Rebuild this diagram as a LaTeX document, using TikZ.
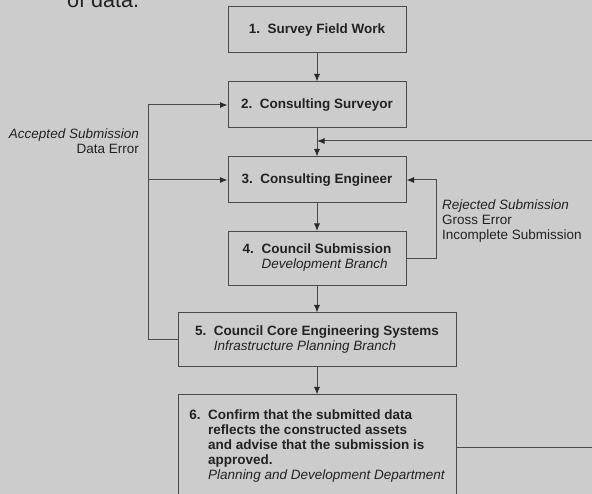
\documentclass[tikz,border=0pt]{standalone}
\usepackage{fontspec}
\setmainfont{Liberation Sans}
\usetikzlibrary{arrows.meta,positioning}
\definecolor{bggray}{HTML}{CCCCCC}
\definecolor{ink}{HTML}{4A4A4A}
\definecolor{tip}{HTML}{2A2A2A}
\definecolor{txt}{HTML}{222222}
\tikzset{font=\fontsize{13.5}{15}\selectfont}
\tikzset{
  stepbox/.style={draw=ink, line width=1pt, text=txt, inner sep=0pt,
                  minimum width=178pt, minimum height=46pt},
  widebox/.style={stepbox, minimum width=278pt, minimum height=54pt},
  flow/.style={draw=ink, line width=1pt, -{Latex[length=7.5pt,width=6pt,color=tip]}},
  plain/.style={draw=ink, line width=1pt},
  note/.style={text=txt, inner sep=0pt}
}
\newcommand{\boxtext}[2]{\begin{tabular}{@{}l@{\hspace{7.6pt}}l@{}}#1&#2\end{tabular}}

\begin{document}
\begin{tikzpicture}[x=1pt,y=-1pt]
  \fill[bggray] (0,0) rectangle (592,494);
  \useasboundingbox (0,0) rectangle (592,494);
  \clip (0,0) rectangle (592,494);

  % text left over from the page above
  \node[note, anchor=base west, font=\fontsize{21.6}{24}\selectfont] (ofdata) at (67,8) {of data.};

  \node[stepbox] (survey) at (317,30) {\bfseries 1.\ \ Survey Field Work};
  \node[stepbox] (surveyor) at (317,105) {\bfseries 2.\ \ Consulting Surveyor};
  \node[stepbox] (engineer) at (317,180) {\bfseries 3.\ \ Consulting Engineer};
  \node[stepbox, minimum height=54pt] (council) at (317,258.5)
    {\boxtext{\bfseries 4.}{\bfseries Council Submission\\ & \itshape Development Branch}};
  \node[widebox] (core) at (317,340)
    {\boxtext{\bfseries 5.}{\bfseries Council Core Engineering Systems\\ & \itshape Infrastructure Planning Branch}};
  \node[widebox, minimum height=104pt] (confirm) at (317,447)
    {\boxtext{\bfseries 6.}{\bfseries Confirm that the submitted data\\
      & \bfseries reflects the constructed assets\\
      & \bfseries and advise that the submission is\\
      & \bfseries approved.\\
      & \itshape Planning and Development Department}};

  % main chain
  \draw[flow] (survey) -- (surveyor);
  \draw[flow] (surveyor) -- (engineer);
  \draw[flow] (engineer) -- (council);
  \draw[flow] (council) -- (core);
  \draw[flow] (core) -- (confirm);

  % loop from the far right
  \coordinate (rin) at (592,141);
  \coordinate (rout) at (592,447);
  \draw[plain] (confirm.east) -- (rout);
  \draw[flow] (rin) -- (rin -| surveyor.south);

  % rejected submission
  \coordinate (rej) at (436,258.5);
  \draw[flow] (council.east) -- (rej) |- (engineer.east);
  \node[note, anchor=west, align=left] (rejtext) at (442,221.5)
    {\itshape Rejected Submission\\ Gross Error\\ Incomplete Submission};

  % accepted submission
  \coordinate (acc) at (148,340);
  \draw[flow] (core.west) -- (acc) |- (surveyor.west);
  \draw[flow] (acc |- engineer.west) -- (engineer.west);
  \node[note, anchor=east, align=right] (acctext) at (139,141.5)
    {\itshape Accepted Submission\\ Data Error};
\end{tikzpicture}
\end{document}
